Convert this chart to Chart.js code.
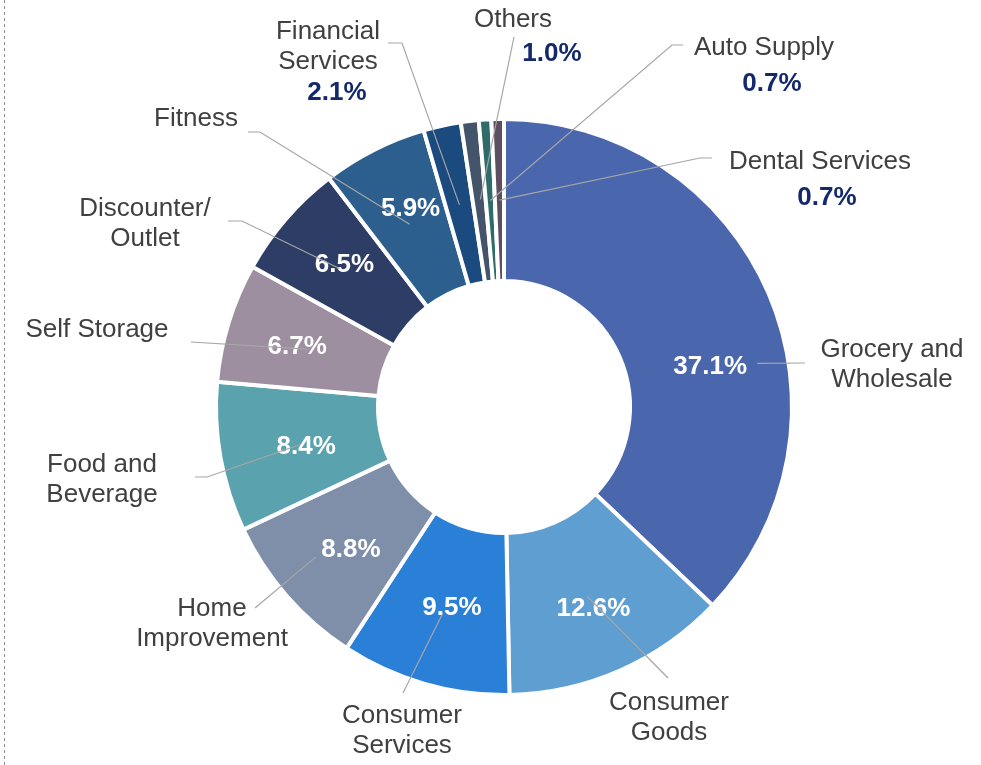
<!DOCTYPE html>
<html>
<head>
<meta charset="utf-8">
<script src="https://cdn.jsdelivr.net/npm/chart.js@4.4.1/dist/chart.umd.min.js"></script>
<style>
  body { margin: 0; background: #fff; }
  canvas { display: block; }
</style>
</head>
<body>
<canvas id="mix" width="981" height="765"></canvas>
<script>
// tenant mix by industry (% of total)
const categories = [
  ['Grocery and', 'Wholesale'],
  ['Consumer', 'Goods'],
  ['Consumer', 'Services'],
  ['Home', 'Improvement'],
  ['Food and', 'Beverage'],
  ['Self Storage'],
  ['Discounter/', 'Outlet'],
  ['Fitness'],
  ['Financial', 'Services'],
  ['Others'],
  ['Auto Supply'],
  ['Dental Services']
];
const shares = [37.1, 12.6, 9.5, 8.8, 8.4, 6.7, 6.5, 5.9, 2.1, 1.0, 0.7, 0.7];
const pctLabels = ['37.1%', '12.6%', '9.5%', '8.8%', '8.4%', '6.7%', '6.5%', '5.9%', '2.1%', '1.0%', '0.7%', '0.7%'];

const colors = ['#4A66AC', '#5F9ED1', '#2A7FD6', '#7F8FA9', '#5AA2AE', '#9D8EA0',
                '#2D3D66', '#2C5F8E', '#1A4A7E', '#44546A', '#2F6B6B', '#5D4E60'];

// label layout, offsets from the doughnut centre
// inside: shift of the % label from the slice midpoint (null = % goes outside under the name)
const pctShift = [[16, 39], [6, 10], [5, 0], [3, 5], [6, 2], [-9, -1], [-3, -9], [0, -15], null, null, null, null];
const namePos = [[388, -59], [165, 294], [-102, 307], [-292, 200], [-402, 56], [-407, -79],
                 [-359, -200], [-308, -290], [-176, -377], [9, -389], [260, -361], [316, -247]];
const outPct = [null, null, null, null, null, null, null, null, [-167, -316], [48, -355], [268, -325], [323, -211]];
// leader line: start point (from centre), horizontal stub, end nudge from slice midpoint
const leadStart = [[301, -44], [164, 271], [-101, 286], [-249, 201], [-309, 70], [-313, -65],
                   [-276, -186], [-256, -275], [-116, -364], [10, -370], [179, -362], [208, -249]];
const leadStub = [0, 0, 0, 0, 12, 0, 14, 12, 14, 0, -11, -12];
const leadEnd = [[63, 38], [0, 0], [-4, 7], [-32, 14], [1, 1], [1, 3], [-8, -3], [-1, 2], [0, 0], [1, -2], [0, 0], [0, 0]];

const FONT = '"Liberation Sans", Arial, sans-serif';
const TEXT_DY = 2;

const labelPlugin = {
  id: 'mixLabels',
  afterDraw(chart) {
    const ctx = chart.ctx;
    const arcs = chart.getDatasetMeta(0).data;

    // dashed frame line on the left
    ctx.save();
    ctx.strokeStyle = '#8c8c8c';
    ctx.lineWidth = 1;
    ctx.setLineDash([3, 3]);
    ctx.beginPath();
    ctx.moveTo(4.5, 0);
    ctx.lineTo(4.5, chart.height);
    ctx.stroke();
    ctx.restore();

    ctx.save();
    ctx.textAlign = 'center';
    ctx.textBaseline = 'middle';
    arcs.forEach((arc, i) => {
      const cx = arc.x, cy = arc.y;
      const mid = arc.tooltipPosition();

      // % label inside the slice
      if (pctShift[i]) {
        ctx.font = 'bold 26px ' + FONT;
        ctx.fillStyle = '#ffffff';
        ctx.fillText(pctLabels[i], mid.x + pctShift[i][0], mid.y + pctShift[i][1] + TEXT_DY);
      }

      // category name
      ctx.font = '26px ' + FONT;
      ctx.fillStyle = '#404040';
      categories[i].forEach((line, k) => {
        ctx.fillText(line, cx + namePos[i][0], cy + namePos[i][1] + k * 30 + TEXT_DY);
      });

      // % label outside for the small slices
      if (outPct[i]) {
        ctx.font = 'bold 26px ' + FONT;
        ctx.fillStyle = '#13296B';
        ctx.fillText(pctLabels[i], cx + outPct[i][0], cy + outPct[i][1] + TEXT_DY);
      }

      // leader line
      const sx = cx + leadStart[i][0], sy = cy + leadStart[i][1];
      ctx.strokeStyle = '#A6A6A6';
      ctx.lineWidth = 1.2;
      ctx.beginPath();
      ctx.moveTo(sx, sy);
      if (leadStub[i]) ctx.lineTo(sx + leadStub[i], sy);
      ctx.lineTo(mid.x + leadEnd[i][0], mid.y + leadEnd[i][1]);
      ctx.stroke();
    });
    ctx.restore();
  }
};

new Chart(document.getElementById('mix').getContext('2d'), {
  type: 'doughnut',
  data: {
    labels: categories.map(c => c.join(' ')),
    datasets: [{
      data: shares,
      backgroundColor: colors,
      borderColor: '#ffffff',
      borderWidth: 4,
      hoverOffset: 0
    }]
  },
  options: {
    responsive: false,
    animation: false,
    radius: 288,
    cutout: '43.75%',
    rotation: 0,
    layout: { padding: { left: 27, right: 0, top: 49, bottom: 0 } },
    plugins: {
      legend: { display: false },
      tooltip: { enabled: false }
    }
  },
  plugins: [labelPlugin]
});
</script>
</body>
</html>
